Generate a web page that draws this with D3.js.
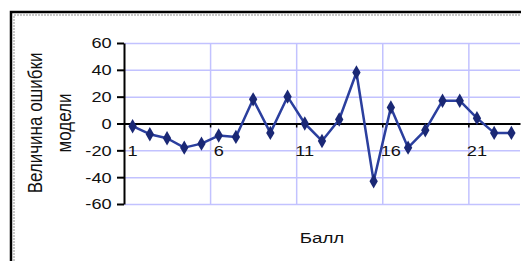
<!DOCTYPE html>
<html>
<head>
<meta charset="utf-8">
<script src="https://cdn.jsdelivr.net/npm/d3@7"></script>
<style>
  body { margin: 0; background: #fff; }
  svg { display: block; font-family: "Liberation Sans", Arial, sans-serif; }
</style>
</head>
<body>
<div id="chart"></div>
<script>
// data
var points = d3.range(1, 24);
var errors = [-2, -8, -11, -18, -15, -9, -10, 18, -7, 20, 0, -13, 3, 38, -43, 12, -18, -5, 17, 17, 4, -7, -7];
var xLabels = [1, 6, 11, 16, 21];
var yTicks = [-60, -40, -20, 0, 20, 40, 60];
var yTitle = ["Величина ошибки", "модели"];
var xTitle = "Балл";

var W = 521, H = 261;
var plot = {left: 124, right: 520, top: 43, bottom: 204};

var svg = d3.select("#chart").append("svg")
    .attr("width", W)
    .attr("height", H);

// frame (cut off on the right and bottom)
svg.append("path")
    .attr("d", "M11,261 V12 H521")
    .attr("fill", "none")
    .attr("stroke", "#000")
    .attr("stroke-width", 2.5);
svg.append("path")
    .attr("d", "M14,261 V15 H521")
    .attr("fill", "none")
    .attr("stroke", "#b8b8b8")
    .attr("stroke-width", 1.5)
    .attr("stroke-dasharray", "2,1");

var x = d3.scaleBand()
    .domain(points)
    .range([plot.left, plot.right]);

// category boundaries, for grid and tick marks
var xb = d3.scaleLinear()
    .domain([0, points.length])
    .range([plot.left, plot.right]);

var y = d3.scaleLinear()
    .domain([-60, 60])
    .range([plot.bottom, plot.top]);

// horizontal grid
svg.append("g")
    .attr("transform", "translate(" + plot.left + ",0)")
    .call(d3.axisLeft(y).tickValues(yTicks.filter(function(d) { return d != 0; }))
        .tickSize(-(plot.right - plot.left)).tickFormat(""))
    .call(function(g) {
        g.select(".domain").remove();
        g.selectAll("line").attr("stroke", "#c2c2ff").attr("stroke-width", 1.5);
    });

// vertical grid
svg.append("g")
    .attr("transform", "translate(0," + plot.top + ")")
    .call(d3.axisBottom(xb).tickValues([5, 10, 15, 20])
        .tickSize(plot.bottom - plot.top).tickFormat(""))
    .call(function(g) {
        g.select(".domain").remove();
        g.selectAll("line").attr("stroke", "#c2c2ff").attr("stroke-width", 1.5);
    });

// y axis (plain hyphen for negatives, like the original)
svg.append("g")
    .attr("transform", "translate(" + plot.left + ",0)")
    .call(d3.axisLeft(y).tickValues(yTicks).tickSize(7).tickSizeOuter(0)
        .tickFormat(function(d) { return String(d); }))
    .call(function(g) {
        g.select(".domain").attr("stroke", "#000").attr("stroke-width", 2);
        g.selectAll("line").attr("stroke", "#000").attr("stroke-width", 2);
        g.selectAll("text")
            .attr("x", -9.5)
            .attr("dy", "0.35em")
            .attr("transform", "scale(1.3,1)")
            .attr("fill", "#111")
            .style("font-size", "14px");
    });

// zero line with boundary ticks
svg.append("g")
    .attr("transform", "translate(0," + y(0) + ")")
    .call(d3.axisBottom(xb).tickValues([5, 10, 15, 20]).tickSize(4).tickSizeOuter(0).tickFormat(""))
    .call(function(g) {
        g.select(".domain").attr("stroke", "#000").attr("stroke-width", 2);
        g.selectAll("line").attr("stroke", "#000").attr("stroke-width", 1.5);
    });

// category labels
svg.append("g")
    .attr("transform", "translate(0," + y(0) + ")")
    .call(d3.axisBottom(x).tickValues(xLabels).tickSize(0).tickPadding(23))
    .call(function(g) {
        g.select(".domain").remove();
        g.selectAll("text")
            .attr("transform", "scale(1.3,1)")
            .attr("fill", "#111")
            .style("font-size", "14px");
    });

// series
var line = d3.line()
    .x(function(d, i) { return x(points[i]) + x.bandwidth() / 2; })
    .y(function(d) { return y(d); });

svg.append("path")
    .datum(errors)
    .attr("fill", "none")
    .attr("stroke", "#2b3f9e")
    .attr("stroke-width", 2.5)
    .attr("stroke-linejoin", "round")
    .attr("d", line);

svg.selectAll(".marker")
    .data(errors)
    .enter()
    .append("path")
        .attr("class", "marker")
        .attr("transform", function(d, i) {
            return "translate(" + (x(points[i]) + x.bandwidth() / 2) + "," + y(d) + ")";
        })
        .attr("d", d3.symbol().type(d3.symbolDiamond).size(60))
        .attr("fill", "#1a2875");

// axis titles
svg.append("g")
    .selectAll("text")
    .data(yTitle)
    .enter()
    .append("text")
        .attr("transform", function(d, i) {
            return "translate(" + (42 + i * 29) + ",123) rotate(-90) scale(1,1.2)";
        })
        .attr("text-anchor", "middle")
        .attr("fill", "#111")
        .style("font-size", "17px")
        .text(function(d) { return d; });

svg.append("text")
    .attr("transform", "translate(" + ((plot.left + plot.right) / 2) + ",243) scale(1.25,1)")
    .attr("text-anchor", "middle")
    .attr("fill", "#111")
    .style("font-size", "15px")
    .text(xTitle);
</script>
</body>
</html>
